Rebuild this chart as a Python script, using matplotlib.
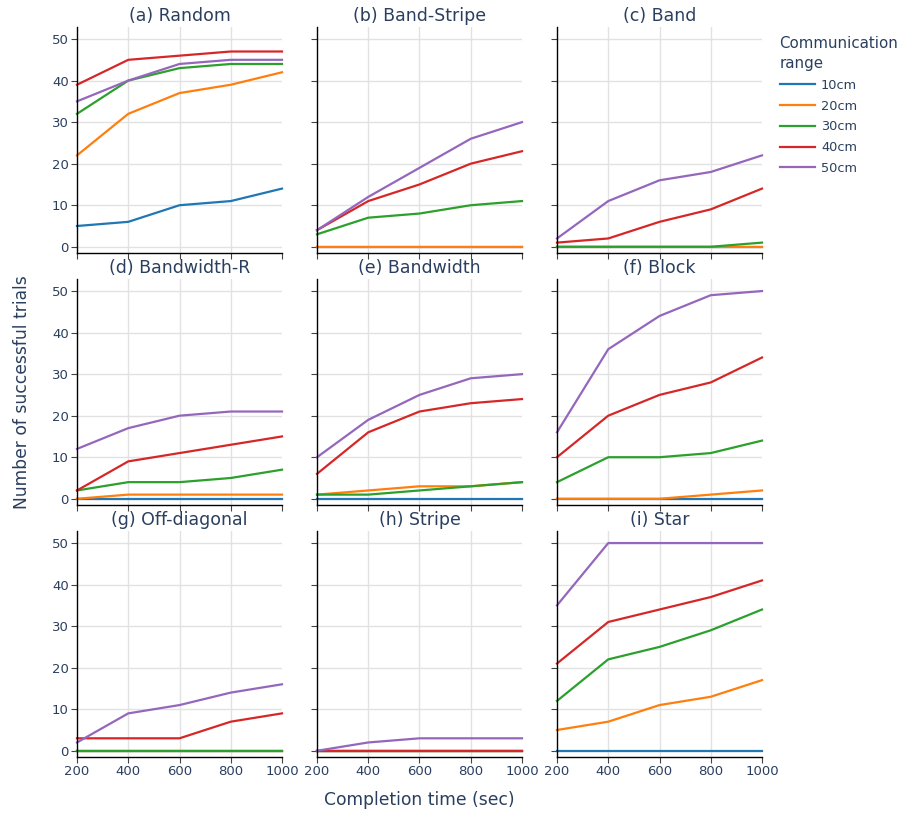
import matplotlib
matplotlib.use("Agg")
from matplotlib import pyplot as plt

# completion time on x, successful trials on y
times = [200, 400, 600, 800, 1000]
ranges = ["10cm", "20cm", "30cm", "40cm", "50cm"]
colors = ["#1f77b4", "#ff7f0e", "#2ca02c", "#d62728", "#9467bd"]

titles = ["(a) Random", "(b) Band-Stripe", "(c) Band",
          "(d) Bandwidth-R", "(e) Bandwidth", "(f) Block",
          "(g) Off-diagonal", "(h) Stripe", "(i) Star"]

# one list per pattern, rows = 10cm..50cm
random_ = [[5, 6, 10, 11, 14], [22, 32, 37, 39, 42], [32, 40, 43, 44, 44],
           [39, 45, 46, 47, 47], [35, 40, 44, 45, 45]]
band_stripe = [[0, 0, 0, 0, 0], [0, 0, 0, 0, 0], [3, 7, 8, 10, 11],
               [4, 11, 15, 20, 23], [4, 12, 19, 26, 30]]
band = [[0, 0, 0, 0, 0], [0, 0, 0, 0, 0], [0, 0, 0, 0, 1],
        [1, 2, 6, 9, 14], [2, 11, 16, 18, 22]]
bandwidth_r = [[0, 0, 0, 0, 0], [0, 1, 1, 1, 1], [2, 4, 4, 5, 7],
               [2, 9, 11, 13, 15], [12, 17, 20, 21, 21]]
bandwidth = [[0, 0, 0, 0, 0], [1, 2, 3, 3, 4], [1, 1, 2, 3, 4],
             [6, 16, 21, 23, 24], [10, 19, 25, 29, 30]]
block = [[0, 0, 0, 0, 0], [0, 0, 0, 1, 2], [4, 10, 10, 11, 14],
         [10, 20, 25, 28, 34], [16, 36, 44, 49, 50]]
off_diag = [[0, 0, 0, 0, 0], [0, 0, 0, 0, 0], [0, 0, 0, 0, 0],
            [3, 3, 3, 7, 9], [2, 9, 11, 14, 16]]
stripe = [[0, 0, 0, 0, 0], [0, 0, 0, 0, 0], [0, 0, 0, 0, 0],
          [0, 0, 0, 0, 0], [0, 2, 3, 3, 3]]
star = [[0, 0, 0, 0, 0], [5, 7, 11, 13, 17], [12, 22, 25, 29, 34],
        [21, 31, 34, 37, 41], [35, 50, 50, 50, 50]]

panels = [random_, band_stripe, band, bandwidth_r, bandwidth, block,
          off_diag, stripe, star]

txt = "#2a3f5f"
W, H = 899, 814
fig = plt.figure(figsize=(W / 100, H / 100), dpi=100)

lefts = [77, 317, 557]
tops = [27, 279, 531]
aw, ah = 205, 226

for i, (title, data) in enumerate(zip(titles, panels)):
    r, c = divmod(i, 3)
    ax = fig.add_axes([lefts[c] / W, 1 - (tops[r] + ah) / H, aw / W, ah / H])
    for vals, col, lab in zip(data, colors, ranges):
        ax.plot(times, vals, color=col, lw=1.6, label=lab, clip_on=False)
    ax.set_xlim(200, 1000)
    ax.set_ylim(-1.5, 52.9)
    ax.set_xticks(times)
    ax.set_yticks([0, 10, 20, 30, 40, 50])
    ax.grid(True, color="#e2e2e2", lw=1)
    ax.set_axisbelow(True)
    ax.get_xgridlines()[-1].set_visible(False)
    ax.get_xgridlines()[0].set_visible(False)
    for s in ["top", "right"]:
        ax.spines[s].set_visible(False)
    for s in ["left", "bottom"]:
        ax.spines[s].set_color("black")
        ax.spines[s].set_linewidth(1)
    ax.tick_params(length=4, color="#444444", labelcolor=txt, labelsize=9.5, pad=2)
    if c != 0:
        ax.tick_params(labelleft=False)
    if r != 2:
        ax.tick_params(labelbottom=False)
    ax.set_title(title, color=txt, fontsize=12.5, pad=4)
    if i == 0:
        handles, labels = ax.get_legend_handles_labels()

fig.text(22 / W, 1 - 392 / H, "Number of successful trials", rotation=90,
         ha="center", va="center", color=txt, fontsize=12.3)
fig.text(419 / W, 1 - 800 / H, "Completion time (sec)",
         ha="center", va="center", color=txt, fontsize=12.3)

leg = fig.legend(handles, labels, loc="upper left",
                 bbox_to_anchor=(768 / W, 1 - 24 / H), frameon=False,
                 title="Communication\nrange", title_fontsize=10.8, fontsize=9.3,
                 handlelength=2.7, handletextpad=0.5, labelspacing=0.6,
                 alignment="left")
leg.get_title().set_color(txt)
leg.get_title().set_linespacing(1.45)
for t in leg.get_texts():
    t.set_color(txt)

fig.savefig("out.png", dpi=100)
